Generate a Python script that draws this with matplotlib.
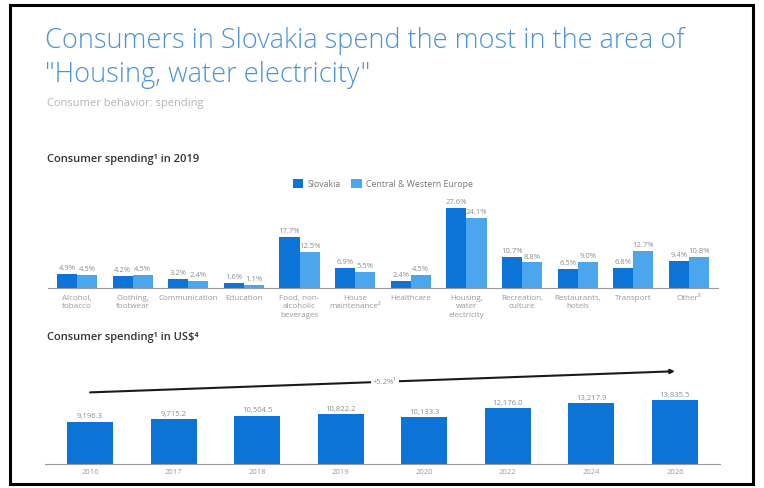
import matplotlib
matplotlib.use("Agg")
import matplotlib.pyplot as plt
import matplotlib.patches as mpatches
import numpy as np

plt.rcParams["font.family"] = ["Open Sans", "DejaVu Sans"]

# Spending shares by category, 2019 (%)
categories = [
    "Alcohol,\ntobacco", "Clothing,\nfootwear", "Communication", "Education",
    "Food, non-\nalcoholic\nbeverages", "House\nmaintenance²", "Healthcare",
    "Housing,\nwater\nelectricity", "Recreation,\nculture", "Restaurants,\nhotels",
    "Transport", "Other³",
]
slovakia = [4.9, 4.2, 3.2, 1.6, 17.7, 6.9, 2.4, 27.6, 10.7, 6.5, 6.8, 9.4]
cw_europe = [4.5, 4.5, 2.4, 1.1, 12.5, 5.5, 4.5, 24.1, 8.8, 9.0, 12.7, 10.8]

# Total consumer spending in US$
years = ["2016", "2017", "2018", "2019", "2020", "2022", "2024", "2026"]
spending = [9196.3, 9715.2, 10504.5, 10822.2, 10133.3, 12176.0, 13217.9, 13835.5]
cagr_label = "+5.2%¹"

dark_blue = "#0b74d6"
light_blue = "#4ba6ee"
grey_txt = "#8c8c8c"

fig = plt.figure(figsize=(7.64, 4.89), dpi=100)
W, H = 764, 489

def fx(px):
    return px / W

def fy(py):
    return 1 - py / H

# frame
fig.patches.append(mpatches.Rectangle((fx(10), fy(485)), fx(743), 479 / H,
                                      transform=fig.transFigure, fill=False,
                                      edgecolor="black", lw=2.2))

fig.text(fx(45), fy(48), "Consumers in Slovakia spend the most in the area of",
         fontsize=19.5, color="#4893da", fontweight="light", va="baseline")
fig.text(fx(45), fy(82), "\"Housing, water electricity\"",
         fontsize=19.5, color="#4893da", fontweight="light", va="baseline")
fig.text(fx(47), fy(106), "Consumer behavior: spending",
         fontsize=8, color="#b4b4b4", va="baseline")
fig.text(fx(47), fy(162), "Consumer spending¹ in 2019",
         fontsize=8, color="#333333", fontweight="semibold", va="baseline")
fig.text(fx(47), fy(340), "Consumer spending¹ in US$⁴",
         fontsize=8, color="#333333", fontweight="semibold", va="baseline")

# --- category chart ---
ax1 = fig.add_axes([fx(48), fy(289), fx(670), 90 / H])
x = np.arange(len(categories))
bw = 0.36
b1 = ax1.bar(x - bw / 2, slovakia, bw, color=dark_blue, label="Slovakia")
b2 = ax1.bar(x + bw / 2, cw_europe, bw, color=light_blue,
             label="Central & Western Europe")
for bars, vals in ((b1, slovakia), (b2, cw_europe)):
    for rect, v in zip(bars, vals):
        ax1.text(rect.get_x() + rect.get_width() / 2, v + 1.0, f"{v:.1f}%",
                 ha="center", va="bottom", fontsize=5.5, color=grey_txt)
ax1.set_xlim(-0.52, 11.52)
ax1.set_ylim(0, 31)
ax1.set_xticks(x)
ax1.set_xticklabels(categories, fontsize=5.8, color="#999999", linespacing=1.3)
ax1.tick_params(axis="x", length=0, pad=4)
ax1.set_yticks([])
for s in ("top", "right", "left"):
    ax1.spines[s].set_visible(False)
ax1.spines["bottom"].set_color("#9a9a9a")
ax1.spines["bottom"].set_linewidth(0.8)
ax1.legend(loc="center", bbox_to_anchor=(0.5, 1.16), ncol=2, frameon=False,
           fontsize=6.3, handlelength=1.2, handleheight=1.2, handletextpad=0.5,
           columnspacing=1.2, labelcolor="#777777")

# --- yearly totals chart ---
ax2 = fig.add_axes([fx(45), fy(465), fx(675), 101 / H])
xy = np.arange(len(years))
bars = ax2.bar(xy, spending, 0.55, color=dark_blue)
for rect, v in zip(bars, spending):
    ax2.text(rect.get_x() + rect.get_width() / 2, v + 500, f"{v:,.1f}",
             ha="center", va="bottom", fontsize=5.5, color=grey_txt)
ax2.set_xlim(-0.54, 7.54)
ax2.set_ylim(0, 22000)
ax2.set_xticks(xy)
ax2.set_xticklabels(years, fontsize=5.5, color="#999999")
ax2.tick_params(axis="x", length=0, pad=3)
ax2.set_yticks([])
for s in ("top", "right", "left"):
    ax2.spines[s].set_visible(False)
ax2.spines["bottom"].set_color("#9a9a9a")
ax2.spines["bottom"].set_linewidth(0.8)

# growth arrow across the period
ax2.annotate("", xy=(7, 20200), xytext=(0, 15600),
             arrowprops=dict(arrowstyle="-|>", color="#1a1a1a", lw=1.5,
                             mutation_scale=6, shrinkA=0, shrinkB=0),
             annotation_clip=False)
ax2.text(3.53, 18000, cagr_label, ha="center", va="center", fontsize=5.5,
         color=grey_txt, bbox=dict(facecolor="white", edgecolor="none", pad=1.5))

fig.savefig("out.png", dpi=100)
